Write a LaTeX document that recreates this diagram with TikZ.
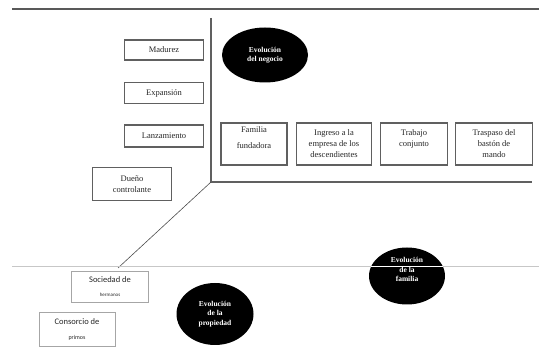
\documentclass[tikz,border=0pt]{standalone}
\usepackage{fontspec}
\setmainfont{Liberation Serif}
\newfontfamily\calibri{Carlito}
\usetikzlibrary{shapes.geometric}

\begin{document}
\begin{tikzpicture}[x=1pt,y=-1pt,every node/.style={font=\fontsize{8.5}{11}\selectfont,align=center,text=black!85},
  etapa/.style={draw=gray!75!black,line width=1.6pt,inner sep=1pt},
  sello/.style={ellipse,fill=black,inner sep=0pt,text=white,font=\fontsize{7.5}{9.5}\selectfont\bfseries},
  eje/.style={draw=gray!75!black,line width=1.6pt}]
  \useasboundingbox (0,0) rectangle (539,347);
  \coordinate (tl) at (12,9);
  \coordinate (tr) at (539,9);
  \coordinate (vtop) at (211,18);
  \coordinate (o) at (211,182);
  \coordinate (hend) at (532,182);
  \coordinate (diag) at (118,268);
  \coordinate (bl) at (12,266);
  \coordinate (br) at (539,266);
  \draw[eje,draw=black!65,line width=1.8pt] (tl) -- (tr);
  \draw[eje] (vtop) -- (o) -- (hend);
  \draw[draw=black!70,line width=0.6pt] (o) -- (diag);
  \draw[draw=black!22,line width=0.8pt] (bl) -- (br);
  \node[etapa,minimum width=79,minimum height=20] (madurez) at (164,50) {Madurez};
  \node[etapa,minimum width=79,minimum height=21] (expansion) at (164,93) {Expansión};
  \node[etapa,minimum width=79,minimum height=22] (lanzamiento) at (164,136) {Lanzamiento};
  \node[etapa,minimum width=79,minimum height=33] (dueno) at (132,184) {Dueño\\controlante};
  \node[etapa,minimum width=66,minimum height=42] (fundadora) at (254,144) {Familia\\[5pt]fundadora\\[2pt]~};
  \node[etapa,minimum width=75,minimum height=42] (ingreso) at (334,144) {Ingreso a la\\empresa de los\\descendientes};
  \node[etapa,minimum width=67,minimum height=42] (trabajo) at (414,144) {Trabajo\\conjunto\\~};
  \node[etapa,minimum width=77,minimum height=42] (traspaso) at (494,144) {Traspaso del\\bastón de\\mando};
  \node[etapa,draw=gray!70,line width=1pt,minimum width=77,minimum height=31,font=\calibri\fontsize{8.5}{14}\selectfont] (sociedad) at (110,287) {Sociedad de\\{\fontsize{5}{6}\selectfont hermanos}};
  \node[etapa,draw=gray!70,line width=1pt,minimum width=76,minimum height=34,font=\calibri\fontsize{8.5}{15}\selectfont] (consorcio) at (77,330) {Consorcio de\\{\fontsize{6}{7}\selectfont primos}};
  \node[sello,minimum width=86,minimum height=55] (negocio) at (265,55) {Evolución\\del negocio};
  \node[sello,minimum width=76,minimum height=57] (familia) at (407,276) {Evolución\\de la\\familia\\[3pt]};
  \node[sello,minimum width=77,minimum height=62] (propiedad) at (215,314) {Evolución\\de la\\propiedad};
  \draw[white,line width=0.8pt] (familia.165 |- bl) -- (familia.15 |- bl);
\end{tikzpicture}
\end{document}
